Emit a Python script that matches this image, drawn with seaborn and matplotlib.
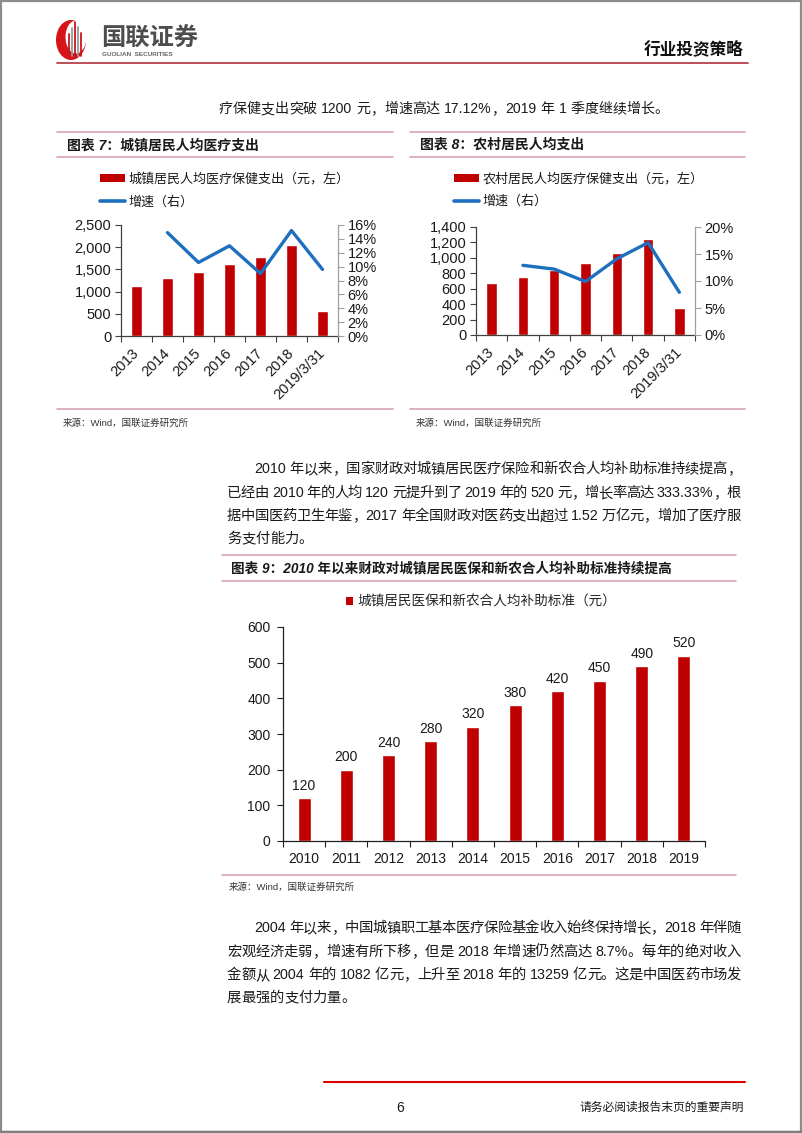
import re
import numpy as np
import matplotlib
matplotlib.use("Agg")
import matplotlib.pyplot as plt
import seaborn as sns
from matplotlib.lines import Line2D
from matplotlib.patches import Patch, Rectangle, Ellipse
from matplotlib.ticker import FuncFormatter, PercentFormatter, FixedLocator

sns.set_theme(style="white")
plt.rcParams["font.family"] = ["Liberation Sans", "Noto Sans CJK SC", "DejaVu Sans"]
plt.rcParams["axes.unicode_minus"] = False

# ---------------- data ----------------
cats7 = ["2013", "2014", "2015", "2016", "2017", "2018", "2019/3/31"]
urban_spend = [1136, 1306, 1443, 1631, 1777, 2046, 552]
urban_growth = [0.149, 0.106, 0.130, 0.090, 0.152, 0.096]   # 2014 ... 2019/3/31

cats8 = ["2013", "2014", "2015", "2016", "2017", "2018", "2019/3/31"]
rural_spend = [668, 754, 846, 929, 1059, 1240, 350]
rural_growth = [0.129, 0.122, 0.099, 0.141, 0.171, 0.079]   # 2014 ... 2019/3/31

years9 = ["2010", "2011", "2012", "2013", "2014", "2015", "2016", "2017", "2018", "2019"]
subsidy = [120, 200, 240, 280, 320, 380, 420, 450, 490, 520]

legend7 = ["城镇居民人均医疗保健支出（元，左）", "增速（右）"]
legend8 = ["农村居民人均医疗保健支出（元，左）", "增速（右）"]
legend9 = "城镇居民医保和新农合人均补助标准（元）"
title7 = "图表 7：城镇居民人均医疗支出"
title8 = "图表 8：农村居民人均支出"
title9 = "图表 9：2010 年以来财政对城镇居民医保和新农合人均补助标准持续提高"
source = "来源：Wind，国联证券研究所"

para1 = ["疗保健支出突破 1200 元，增速高达 17.12%，2019 年 1 季度继续增长。"]
para2 = ["2010 年以来，国家财政对城镇居民医疗保险和新农合人均补助标准持续提高，",
         "已经由 2010 年的人均 120 元提升到了 2019 年的 520 元，增长率高达 333.33%，根",
         "据中国医药卫生年鉴，2017 年全国财政对医药支出超过 1.52 万亿元，增加了医疗服",
         "务支付能力。"]
para3 = ["2004 年以来，中国城镇职工基本医疗保险基金收入始终保持增长，2018 年伴随",
         "宏观经济走弱，增速有所下移，但是 2018 年增速仍然高达 8.7%。每年的绝对收入",
         "金额从 2004 年的 1082 亿元，上升至 2018 年的 13259 亿元。这是中国医药市场发",
         "展最强的支付力量。"]

RED = "#C00000"
BLUE = "#1F6FBF"
PINK = "#D9A3B5"
TXT = "#1A1A1A"

W, H = 802, 1133
fig = plt.figure(figsize=(W / 100, H / 100), dpi=100)
fig.patch.set_facecolor("white")
renderer = fig.canvas.get_renderer()


def rect(x0, y0, x1, y1):
    return [x0 / W, 1 - y1 / H, (x1 - x0) / W, (y1 - y0) / H]


def fx(x):
    return x / W


def fy(y):
    return 1 - y / H


def hline(x0, x1, y, color, lw):
    fig.add_artist(Line2D([fx(x0), fx(x1)], [fy(y), fy(y)], color=color, lw=lw,
                          transform=fig.transFigure))


def text(x, y, s, size, **kw):
    kw.setdefault("color", TXT)
    kw.setdefault("va", "center")
    return fig.text(fx(x), fy(y), s, fontsize=size, **kw)


def line_text(x0, x1, y, s, size, justify=True, **kw):
    """Place a line of body text; when justify, spread tokens to fill x0..x1."""
    toks = re.findall(r"[0-9A-Za-z.%]+| |.", s)
    px = size * 100 / 72
    items = []
    for t in toks:
        if t == " ":
            items.append((None, 0.28 * px))
        else:
            tt = fig.text(0, 0, t, fontsize=size, color=TXT, va="baseline", ha="left", **kw)
            items.append((tt, tt.get_window_extent(renderer).width))
    total = sum(w for _, w in items)
    ngaps = len(items) - 1
    extra = (x1 - x0 - total) / ngaps if (justify and ngaps > 0) else 0.0
    x = x0
    base = y + 0.36 * px
    for tt, w in items:
        if tt is not None:
            tt.set_position((fx(x), fy(base)))
        x += w + extra


# ---------------- page frame, header, footer ----------------
fig.add_artist(Rectangle((0.001, 0.001), 0.998, 0.998, transform=fig.transFigure,
                         fill=False, edgecolor="#8C8C8C", lw=1.6))
hline(0, W, 1131.5, "#7F7F7F", 2.5)

# logo
fig.add_artist(Ellipse((fx(71), fy(40)), 30 / W, 40 / H, transform=fig.transFigure,
                       facecolor="#D7141A", edgecolor="none"))
fig.add_artist(Ellipse((fx(76), fy(37)), 21 / W, 33 / H, transform=fig.transFigure,
                       facecolor="white", edgecolor="none"))
for xx, top, c in [(69, 34, "#C8161D"), (72, 28, "#9A9A9A"), (75, 22, "#C8161D"),
                   (78, 27, "#9A9A9A"), (81, 33, "#C8161D")]:
    fig.add_artist(Line2D([fx(xx), fx(xx)], [fy(56), fy(top)], color=c, lw=1.3,
                          transform=fig.transFigure))
text(101, 39, "国联证券", 17.5, color="#4D4D4D", weight="bold", ha="left")
text(102, 55, "GUOLIAN  SECURITIES", 4.6, color="#666666", ha="left", weight="bold")
text(743, 49, "行业投资策略", 12, color="#111111", weight="bold", ha="right")
hline(57, 748, 63, "#B8404A", 1.3)

hline(324, 745, 1082, "#E00000", 1.5)
text(400, 1108, "6", 10, ha="center")
text(744, 1108, "请务必阅读报告末页的重要声明", 8.5, ha="right")

# ---------------- body text ----------------
line_text(219, 668, 108, para1[0], 10.1, justify=False)
ys2 = [468, 492, 515, 538]
for i, (ln, yy) in enumerate(zip(para2, ys2)):
    x0 = 254 if i == 0 else 227
    line_text(x0, 741, yy, ln, 10.3, justify=(i < len(para2) - 1))
ys3 = [927, 951, 974, 997]
for i, (ln, yy) in enumerate(zip(para3, ys3)):
    x0 = 254 if i == 0 else 227
    line_text(x0, 741, yy, ln, 10.3, justify=(i < len(para3) - 1))

# ---------------- section titles ----------------
for (x0, x1, t) in [(57, 393, title7), (410, 745, title8)]:
    hline(x0, x1, 132, PINK, 1.2)
    hline(x0, x1, 157, PINK, 1.2)
    text(x0 + 10, 145, t, 10, weight="bold", ha="left", style="italic")
    hline(x0, x1, 409, PINK, 1.2)
    text(x0 + 6, 423, source, 6.8, ha="left", color="#333333")

hline(222, 736, 555, PINK, 1.2)
hline(222, 736, 581, PINK, 1.2)
text(231, 568, title9, 9.8, weight="bold", ha="left", style="italic")
hline(222, 736, 875, PINK, 1.2)
text(229, 887, source, 6.8, ha="left", color="#333333")


# ---------------- combo charts ----------------
def combo(box, cats, bars, growth, ymax, ystep, y2max, y2step, labels, leg_x, tick_fs):
    ax = fig.add_axes(rect(*box))
    sns.barplot(x=cats, y=bars, color=RED, saturation=1, width=0.33, ax=ax)
    n = len(cats)
    ax.set_xlim(-0.5, n - 0.5)
    ax.set_ylim(0, ymax)
    ax.set_yticks(np.arange(0, ymax + 1, ystep))
    ax.yaxis.set_major_formatter(FuncFormatter(lambda v, p: f"{v:,.0f}"))
    ax.set_xlabel("")
    ax.set_ylabel("")
    ax.set_xticks(np.arange(n))
    ax.set_xticklabels(cats, rotation=45, ha="right", va="center", rotation_mode="anchor")
    ax.xaxis.set_minor_locator(FixedLocator(np.arange(-0.5, n, 1.0)))
    ax.tick_params(axis="x", which="major", length=0, pad=11, labelsize=tick_fs, colors=TXT)
    ax.tick_params(axis="x", which="minor", length=4, width=0.8, color="#404040", bottom=True)
    ax.tick_params(axis="y", left=True, length=4, width=0.8, color="#404040", pad=3,
                   labelsize=tick_fs, labelcolor=TXT)
    for s in ["top", "right"]:
        ax.spines[s].set_visible(False)
    for s in ["left", "bottom"]:
        ax.spines[s].set_color("#404040")
        ax.spines[s].set_linewidth(0.9)

    ax2 = ax.twinx()
    sns.lineplot(x=np.arange(1, n), y=growth, color=BLUE, lw=2.4, ax=ax2)
    ax2.set_ylim(0, y2max)
    ax2.set_yticks(np.arange(0, y2max + 1e-9, y2step))
    ax2.yaxis.set_major_formatter(PercentFormatter(1.0, decimals=0))
    ax2.tick_params(axis="y", right=True, length=4, width=0.8, color="#A0A0A0", pad=3,
                    labelsize=tick_fs, labelcolor=TXT)
    for s in ["top", "left", "bottom"]:
        ax2.spines[s].set_visible(False)
    ax2.spines["right"].set_color("#A0A0A0")
    ax2.spines["right"].set_linewidth(0.9)
    ax2.set_ylabel("")
    ax.set_xlim(-0.5, n - 0.5)

    handles = [Patch(facecolor=RED, edgecolor="none"), Line2D([], [], color=BLUE, lw=2.6)]
    leg = fig.legend(handles, labels, loc="upper left", bbox_to_anchor=(fx(leg_x), fy(173)),
                     frameon=False, fontsize=9.4, handlelength=1.9, handleheight=0.6,
                     handletextpad=0.25, labelspacing=0.75, borderpad=0, borderaxespad=0)
    for t in leg.get_texts():
        t.set_color(TXT)
    return ax


combo((121, 225, 338, 336), cats7, urban_spend, urban_growth, 2500, 500, 0.16, 0.02,
      legend7, 100, 10.5)
combo((476, 227, 695, 335), cats8, rural_spend, rural_growth, 1400, 200, 0.20, 0.05,
      legend8, 454, 10.5)

# ---------------- chart 9 ----------------
ax9 = fig.add_axes(rect(283, 627, 705, 841))
sns.barplot(x=years9, y=subsidy, color=RED, saturation=1, width=0.31, ax=ax9)
n9 = len(years9)
ax9.set_xlim(-0.5, n9 - 0.5)
ax9.set_ylim(0, 600)
ax9.set_yticks(np.arange(0, 601, 100))
ax9.set_xlabel("")
ax9.set_ylabel("")
ax9.xaxis.set_minor_locator(FixedLocator(np.arange(-0.5, n9, 1.0)))
ax9.tick_params(axis="x", which="major", length=0, pad=8, labelsize=10, colors=TXT)
ax9.tick_params(axis="x", which="minor", length=4, width=0.8, color="#202020", bottom=True)
ax9.tick_params(axis="y", left=True, length=4, width=0.8, color="#202020", pad=5,
                labelsize=10, labelcolor=TXT)
for s in ["top", "right"]:
    ax9.spines[s].set_visible(False)
for s in ["left", "bottom"]:
    ax9.spines[s].set_color("#202020")
    ax9.spines[s].set_linewidth(0.9)
ax9.bar_label(ax9.containers[0], padding=4, fontsize=10, color=TXT)
fig.legend([Patch(facecolor=RED, edgecolor="none")], [legend9], loc="center",
           bbox_to_anchor=(fx(481), fy(602)), frameon=False, fontsize=9.8,
           handlelength=0.5, handleheight=0.5, handletextpad=0.3, borderpad=0)

fig.savefig("out.png", dpi=100, facecolor="white")
